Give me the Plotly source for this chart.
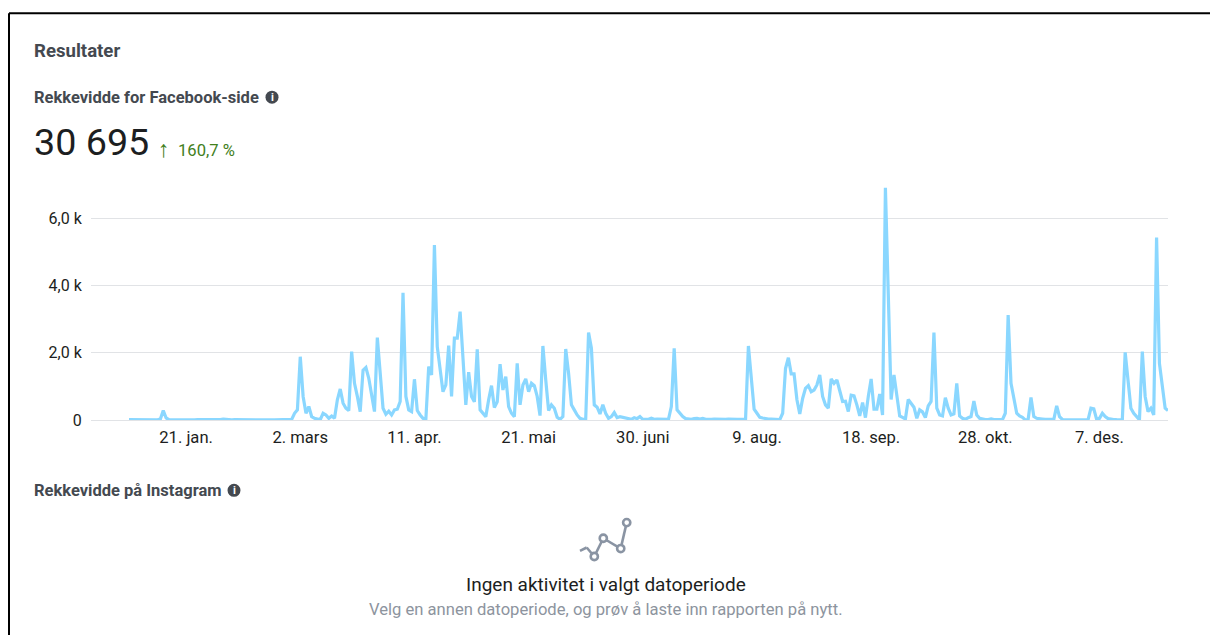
import pandas as pd
import plotly.graph_objects as go

# ---------- data ----------
start_date = "2021-01-01"
reach = [
    10, 10, 5, 8, 5, 12, 8, 5, 10, 15,
    5, 30, 280, 60, 10, 8, 5, 10, 8, 5,
    8, 10, 5, 5, 10, 8, 5, 10, 8, 5,
    10, 8, 15, 30, 15, 8, 5, 10, 8, 5,
    5, 10, 8, 5, 5, 10, 8, 5, 5, 8,
    5, 8, 10, 5, 5, 8, 5, 20, 200, 300,
    1880, 700, 200, 400, 100, 50, 30, 10, 200, 150,
    50, 120, 50, 600, 920, 500, 350, 280, 2030, 1090,
    700, 250, 1480, 1560, 1240, 800, 250, 2450, 1480, 350,
    170, 260, 150, 300, 320, 550, 3780, 700, 300, 250,
    1210, 280, 150, 50, 20, 1590, 1340, 5200, 2180, 1480,
    840, 1040, 2210, 700, 2430, 2430, 3220, 1850, 450, 1420,
    700, 540, 2100, 300, 200, 100, 600, 1020, 370, 540,
    1660, 890, 1290, 400, 200, 100, 1680, 450, 1040, 1220,
    840, 1090, 1020, 700, 130, 2200, 1190, 280, 450, 350,
    80, 20, 100, 2110, 1390, 450, 300, 150, 50, 20,
    20, 2600, 2130, 450, 380, 180, 450, 200, 50, 100,
    220, 70, 100, 80, 40, 20, 20, 70, 40, 100,
    20, 20, 20, 50, 20, 25, 20, 15, 20, 20,
    400, 2130, 300, 200, 100, 40, 30, 20, 40, 50,
    30, 50, 20, 30, 20, 25, 20, 20, 15, 20,
    25, 30, 25, 20, 20, 30, 20, 2200, 1290, 320,
    200, 80, 60, 40, 30, 30, 20, 15, 10, 200,
    1530, 1850, 1370, 1370, 600, 180, 640, 940, 1020, 840,
    890, 1040, 1340, 700, 450, 350, 1220, 1090, 1190, 870,
    550, 560, 250, 740, 720, 450, 120, 520, 70, 700,
    1220, 320, 320, 770, 150, 6900, 3460, 610, 1340, 700,
    120, 80, 30, 610, 500, 380, 50, 300, 240, 70,
    420, 550, 2600, 350, 150, 120, 660, 350, 150, 180,
    1090, 120, 50, 20, 70, 100, 560, 150, 50, 20,
    10, 15, 30, 10, 15, 10, 10, 200, 3120, 1090,
    600, 200, 120, 80, 5, 15, 670, 100, 50, 30,
    30, 20, 15, 10, 20, 420, 100, 15, 10, 10,
    5, 5, 8, 5, 5, 5, 10, 350, 330, 20,
    50, 200, 100, 40, 20, 15, 10, 10, 5, 2010,
    1090, 350, 200, 100, 5, 2030, 700, 250, 350, 150,
    5420, 1680, 990, 350, 280,
]
tick_dates = ["2021-01-21", "2021-03-02", "2021-04-11", "2021-05-21", "2021-06-30",
              "2021-08-09", "2021-09-18", "2021-10-28", "2021-12-07"]
tick_labels = ["21. jan.", "2. mars", "11. apr.", "21. mai", "30. juni",
               "9. aug.", "18. sep.", "28. okt.", "7. des."]
y_ticks = [0, 2000, 4000, 6000]
y_labels = ["0", "2,0 k", "4,0 k", "6,0 k"]
assert len(reach) == 365
dates = pd.date_range(start_date, periods=len(reach))

# ---------- layout geometry (page pixels) ----------
OFF = 8              # default page margin around the figure
PL, PR, PT, PB = 91, 1168, 180, 420.5
FONT = "Roboto"
DARK = "#1c1e21"
HEAD = "#444950"
GREY = "#8d949e"
GREEN = "#42801c"
ICON = "#8a94a3"


def X(v):
    return (v - PL) / (PR - PL)


def Y(v):
    return (PB - v) / (PB - PT)


def text(s, x, y, size, color, bold=False, anchor="left"):
    return dict(text=f"<b>{s}</b>" if bold else s, x=X(x), y=Y(y), xref="paper", yref="paper",
                xanchor=anchor, yanchor="middle", showarrow=False,
                font=dict(family=FONT, size=size, color=color), borderpad=0, borderwidth=0)


def info_icon(cx, cy):
    return dict(type="circle", xref="paper", yref="paper", x0=X(cx - 6.5), x1=X(cx + 6.5),
                y0=Y(cy + 6.5), y1=Y(cy - 6.5), fillcolor=HEAD, line_width=0)


def dot(cx, cy):
    return dict(type="circle", xref="paper", yref="paper", x0=X(cx - 3.6), x1=X(cx + 3.6),
                y0=Y(cy + 3.6), y1=Y(cy - 3.6), fillcolor="white", line=dict(color=ICON, width=2.6))


def seg(x0, y0, x1, y1, color, width):
    return dict(type="line", xref="paper", yref="paper", x0=X(x0), x1=X(x1), y0=Y(y0), y1=Y(y1),
                line=dict(color=color, width=width))


fig = go.Figure(go.Scatter(x=dates, y=reach, mode="lines", cliponaxis=False,
                           line=dict(color="#8ad7ff", width=3.2, shape="linear"),
                           hoverinfo="skip", showlegend=False))

icon_pts = [(580, 551.7), (586.7, 548.3), (594.3, 557.3), (603.3, 539), (620.7, 549.3), (626.7, 523.3)]
shapes = [seg(9, 13, 1218, 13, "#000000", 2), seg(9, 13, 9, 636, "#000000", 2),
          info_icon(272, 97), info_icon(234, 491)]
shapes += [seg(*a, *b, ICON, 2.6) for a, b in zip(icon_pts, icon_pts[1:])]
shapes += [dot(*p) for p in icon_pts[2:]]

annotations = [
    text("Resultater", 34, 51, 18.6, HEAD, bold=True),
    text("Rekkevidde for Facebook-side", 34, 97, 16.5, HEAD, bold=True),
    text("i", 272, 97, 11, "white", bold=True, anchor="center"),
    text("30 695", 34, 142, 37.7, DARK),
    text("↑", 164, 149, 23, GREEN, anchor="center"),
    text("160,7 %", 178, 150, 16.6, GREEN),
    text("Rekkevidde på Instagram", 34, 491, 16.5, HEAD, bold=True),
    text("i", 234, 491, 11, "white", bold=True, anchor="center"),
    text("Ingen aktivitet i valgt datoperiode", 605.5, 585, 19, DARK, anchor="center"),
    text("Velg en annen datoperiode, og prøv å laste inn rapporten på nytt.", 605.5, 610, 16.6, GREY, anchor="center"),
]

px_per_day = (1168 - 129) / 364
range_start = dates[0] - pd.Timedelta(days=(129 - PL) / px_per_day)

fig.update_layout(
    width=1210, height=628, autosize=False,
    margin=dict(l=PL - OFF, r=1218 - PR, t=PT - OFF, b=636 - PB, pad=0),
    paper_bgcolor="white", plot_bgcolor="white",
    font=dict(family=FONT, size=16, color=DARK),
    shapes=shapes, annotations=annotations, showlegend=False, hovermode=False,
    xaxis=dict(type="date", range=[range_start, dates[-1]], tickmode="array",
               tickvals=tick_dates, ticktext=tick_labels, showgrid=False, zeroline=False,
               showline=False, ticks="outside", ticklen=2, tickcolor="white",
               tickfont=dict(family=FONT, size=16.6, color=DARK)),
    yaxis=dict(range=[0, (PB - PT) / 33.73 * 1000], tickmode="array", tickvals=y_ticks,
               ticktext=y_labels, showgrid=True, gridcolor="#e1e3e6", gridwidth=1.2,
               zeroline=True, zerolinecolor="#e1e3e6", zerolinewidth=1.2, showline=False,
               ticks="outside", ticklen=5, tickcolor="white",
               tickfont=dict(family=FONT, size=16, color=DARK)),
)

fig.write_html("out.html", config={"displayModeBar": False})
